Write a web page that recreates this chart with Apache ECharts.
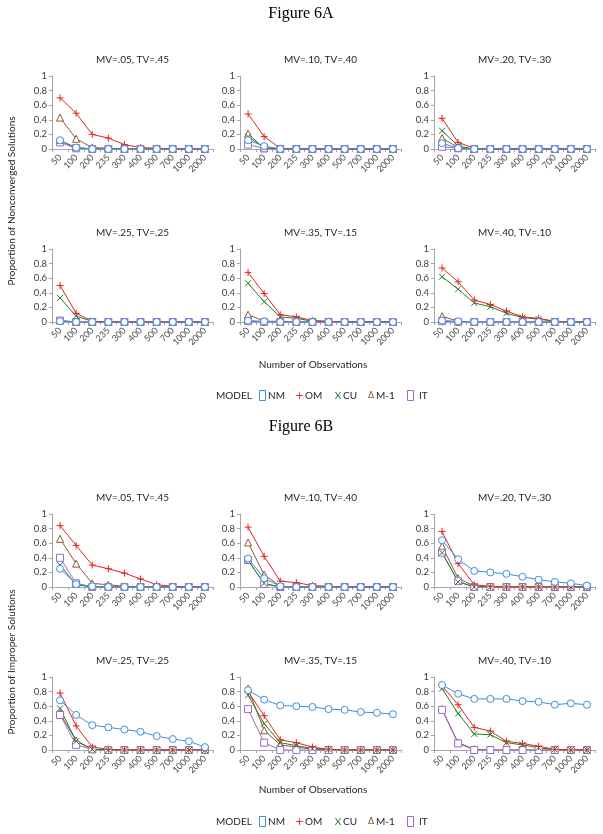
<!DOCTYPE html>
<html><head><meta charset="utf-8">
<script src="https://cdn.jsdelivr.net/npm/echarts@6/dist/echarts.min.js"></script>
<style>html,body{margin:0;padding:0;background:#fff}#c{width:603px;height:834px}</style>
</head><body><div id="c"></div>
<script>
// ---------- data ----------
const categories = ['50','100','200','235','300','400','500','700','1000','2000'];
const models = ['NM','OM','CU','M-1','IT'];
const panelTitles = ['MV=.05, TV=.45','MV=.10, TV=.40','MV=.20, TV=.30','MV=.25, TV=.25','MV=.35, TV=.15','MV=.40, TV=.10'];
const figureTitles = ['Figure 6A','Figure 6B'];
const yAxisTitles = ['Proportion of Nonconverged Solutions','Proportion of Improper Solutions'];
const xAxisTitle = 'Number of Observations';

// each panel: rows = NM, OM, CU, M-1, IT
const A1 = [
  [0.12,0.02,0,0,0,0,0,0,0,0],
  [0.70,0.49,0.20,0.15,0.06,0.02,0.01,0,0,0],
  [0.11,0.02,0,0,0,0,0,0,0,0],
  [0.43,0.14,0.02,0.01,0,0,0,0,0,0],
  [0.09,0.01,0,0,0,0,0,0,0,0]];
const A2 = [
  [0.12,0.04,0,0,0,0,0,0,0,0],
  [0.48,0.17,0.01,0,0,0,0,0,0,0],
  [0.17,0.02,0,0,0,0,0,0,0,0],
  [0.21,0.01,0,0,0,0,0,0,0,0],
  [0.06,0.01,0,0,0,0,0,0,0,0]];
const A3 = [
  [0.08,0.01,0,0,0,0,0,0,0,0],
  [0.42,0.09,0.01,0,0,0,0,0,0,0],
  [0.25,0.04,0,0,0,0,0,0,0,0],
  [0.15,0.02,0,0,0,0,0,0,0,0],
  [0.03,0.01,0,0,0,0,0,0,0,0]];
const A4 = [
  [0.01,0,0,0,0,0,0,0,0,0],
  [0.50,0.12,0.01,0,0,0,0,0,0,0],
  [0.33,0.08,0.01,0,0,0,0,0,0,0],
  [0.02,0,0,0,0,0,0,0,0,0],
  [0.02,0,0,0,0,0,0,0,0,0]];
const A5 = [
  [0.02,0.01,0,0,0,0,0,0,0,0],
  [0.68,0.39,0.10,0.07,0.02,0.01,0,0,0,0],
  [0.53,0.28,0.07,0.05,0.01,0.01,0,0,0,0],
  [0.10,0.01,0.01,0,0,0,0,0,0,0],
  [0.01,0,0,0,0,0,0,0,0,0]];
const A6 = [
  [0.02,0.01,0,0,0,0,0,0,0,0],
  [0.74,0.55,0.30,0.24,0.15,0.07,0.05,0.01,0,0],
  [0.62,0.45,0.26,0.21,0.12,0.06,0.04,0.01,0,0],
  [0.08,0.01,0,0,0,0,0,0,0,0],
  [0.01,0,0,0,0,0,0,0,0,0]];
const B1 = [
  [0.25,0.04,0.01,0,0,0,0,0,0,0],
  [0.84,0.57,0.30,0.25,0.19,0.11,0.03,0.01,0,0],
  [0.30,0.03,0,0,0,0,0,0,0,0],
  [0.66,0.32,0.05,0.03,0.01,0,0,0,0,0],
  [0.40,0.05,0,0,0,0,0,0,0,0]];
const B2 = [
  [0.39,0.12,0.01,0,0,0,0,0,0,0],
  [0.82,0.42,0.08,0.06,0.02,0.01,0,0,0,0],
  [0.36,0.05,0,0,0,0,0,0,0,0],
  [0.61,0.17,0.01,0,0,0,0,0,0,0],
  [0.37,0.04,0,0,0,0,0,0,0,0]];
const B3 = [
  [0.64,0.38,0.22,0.20,0.18,0.14,0.10,0.07,0.05,0.02],
  [0.76,0.32,0.03,0.01,0,0,0,0,0,0],
  [0.47,0.07,0,0,0,0,0,0,0,0],
  [0.56,0.12,0.01,0,0,0,0,0,0,0],
  [0.47,0.08,0,0,0,0,0,0,0,0]];
const B4 = [
  [0.68,0.48,0.34,0.31,0.28,0.25,0.19,0.15,0.12,0.04],
  [0.78,0.33,0.04,0.01,0,0,0,0,0,0],
  [0.57,0.12,0.01,0,0,0,0,0,0,0],
  [0.50,0.13,0.01,0,0,0,0,0,0,0],
  [0.48,0.07,0.01,0,0,0,0,0,0,0]];
const B5 = [
  [0.82,0.69,0.61,0.60,0.59,0.56,0.55,0.52,0.51,0.49],
  [0.80,0.47,0.14,0.10,0.04,0.01,0,0,0,0],
  [0.75,0.36,0.10,0.06,0.02,0.01,0,0,0,0],
  [0.84,0.27,0.07,0.04,0.01,0,0,0,0,0],
  [0.56,0.10,0,0,0,0,0,0,0,0]];
const B6 = [
  [0.89,0.77,0.70,0.70,0.70,0.67,0.66,0.62,0.64,0.62],
  [0.88,0.62,0.31,0.26,0.12,0.09,0.05,0.01,0,0],
  [0.84,0.50,0.22,0.21,0.10,0.07,0.03,0.01,0,0],
  [0.56,0.10,0.01,0,0,0,0,0,0,0],
  [0.55,0.09,0,0,0,0,0,0,0,0]];
const panels = [A1,A2,A3,A4,A5,A6,B1,B2,B3,B4,B5,B6];

// ---------- styles / layout ----------
const FONT = 'Lato, "Open Sans", sans-serif';
const colLeft = [52, 240, 434];
const plotW = 161;
const rowTop = [76, 249, 514, 677];
const plotH = 73;
const seriesStyle = {
  'NM':  {color:'#3D8FDA', symbol:'circle', size:7, fill:'#fff'},
  'OM':  {color:'#E3241E', symbol:'path://M5,0L5,10M0,5L10,5', size:7, fill:'#E3241E'},
  'CU':  {color:'#1F7F2A', symbol:'path://M0,0L10,10M10,0L0,10', size:6, fill:'#1F7F2A'},
  'M-1': {color:'#8C5A32', symbol:'triangle', size:7, fill:'#fff'},
  'IT':  {color:'#9A6DCB', symbol:'rect', size:7, fill:'#fff'}
};
const drawOrder = [3,4,2,1,0]; // M-1, IT, CU, OM, NM on top

const grids=[], xAxes=[], yAxes=[], series=[], graphics=[];
panels.forEach((p, i) => {
  const r = Math.floor(i/3), c = i%3;
  grids.push({left: colLeft[c], top: rowTop[r], width: plotW, height: plotH});
  xAxes.push({type:'category', gridIndex:i, data:categories, boundaryGap:true,
    axisLine:{lineStyle:{color:'#A6A6A6', width:1}},
    axisTick:{show:true, length:3, lineStyle:{color:'#A6A6A6'}},
    axisLabel:{rotate:45, interval:0, fontSize:9, color:'#4a4a4a', margin:7, fontFamily:FONT}});
  yAxes.push({type:'value', gridIndex:i, min:0, max:1, interval:0.2,
    splitLine:{show:false},
    axisLine:{show:true, lineStyle:{color:'#A6A6A6', width:1}},
    axisTick:{show:true, length:3, lineStyle:{color:'#A6A6A6'}},
    axisLabel:{fontSize:9.5, color:'#404040', margin:5, fontFamily:FONT}});
  drawOrder.forEach(k => {
    const m = models[k], st = seriesStyle[m];
    series.push({type:'line', name:m, xAxisIndex:i, yAxisIndex:i, data:p[k],
      symbol:st.symbol, symbolSize:st.size, showAllSymbol:true, animation:false,
      lineStyle:{color:st.color, width:1},
      itemStyle:{color:st.fill, borderColor:st.color, borderWidth:1}});
  });
  graphics.push({type:'text', x: colLeft[c] + plotW/2, y: rowTop[r] - 16,
    style:{text: panelTitles[i%6], font:'10px '+FONT, fill:'#262626',
      textAlign:'center', textVerticalAlign:'middle', align:'center', verticalAlign:'middle'}});
});

function txt(x, y, s, font, fill, align, rot) {
  const g = {type:'text', x, y, style:{text:s, font, fill:fill||'#000',
    textAlign:align||'center', align:align||'center', textVerticalAlign:'middle', verticalAlign:'middle'}};
  if (rot) g.rotation = rot;
  return g;
}
const figY = [14, 427];
const yTitleY = [201, 662];
const xTitleY = [365, 790];
const legY = [396, 822];
for (let f=0; f<2; f++) {
  graphics.push(txt(301, figY[f], figureTitles[f], '16px "Liberation Serif", "Times New Roman", serif', '#000'));
  graphics.push(txt(12, yTitleY[f], yAxisTitles[f], '10px '+FONT, '#262626', 'center', Math.PI/2));
  graphics.push(txt(313, xTitleY[f], xAxisTitle, '10px '+FONT, '#262626'));
  const ly = legY[f];
  graphics.push(txt(216, ly, 'MODEL', '10px '+FONT, '#262626', 'left'));
  graphics.push({type:'rect', shape:{x:259.5, y:ly-5.5, width:6, height:10}, style:{fill:'#fff', stroke:seriesStyle['NM'].color, lineWidth:1}});
  graphics.push(txt(268, ly, 'NM', '10px '+FONT, '#262626', 'left'));
  graphics.push(txt(299.5, ly, '+', '10px "DejaVu Sans", sans-serif', seriesStyle['OM'].color));
  graphics.push(txt(305, ly, 'OM', '10px '+FONT, '#262626', 'left'));
  graphics.push(txt(338, ly, 'X', '10px '+FONT, seriesStyle['CU'].color));
  graphics.push(txt(343, ly, 'CU', '10px '+FONT, '#262626', 'left'));
  graphics.push(txt(371, ly, 'Δ', '9px "DejaVu Sans", sans-serif', seriesStyle['M-1'].color));
  graphics.push(txt(376, ly, 'M-1', '10px '+FONT, '#262626', 'left'));
  graphics.push({type:'rect', shape:{x:407.5, y:ly-5.5, width:6, height:10}, style:{fill:'#fff', stroke:seriesStyle['IT'].color, lineWidth:1}});
  graphics.push(txt(419, ly, 'IT', '10px '+FONT, '#262626', 'left'));
}

const chart = echarts.init(document.getElementById('c'), null, {renderer:'canvas'});
chart.setOption({
  backgroundColor:'#fff',
  animation:false,
  grid:grids, xAxis:xAxes, yAxis:yAxes, series:series,
  graphic:{elements:graphics}
});
</script></body></html>
